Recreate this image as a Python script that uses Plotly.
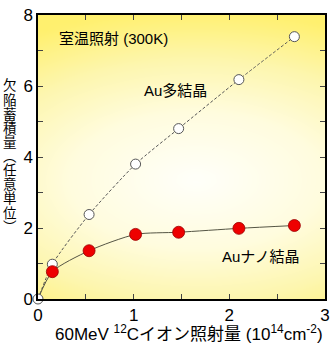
import numpy as np
import plotly.graph_objects as go

# Data
dose_poly = [0.0, 0.15, 0.534, 1.02, 1.47, 2.10, 2.68]
defect_poly = [0.0, 0.98, 2.38, 3.80, 4.80, 6.18, 7.39]
dose_nano = [0.0, 0.15, 0.534, 1.02, 1.47, 2.10, 2.68]
defect_nano = [0.0, 0.77, 1.36, 1.82, 1.88, 1.99, 2.07]
x_ticks = [0, 1, 2, 3]
y_ticks = [0, 2, 4, 6, 8]
y_title_chars = list("欠陥蓄積量︵任意単位︶")

FONT = "Liberation Sans, Arial, Noto Sans CJK JP, sans-serif"

W, H = 336, 347
ML, MR, MT, MB = 38, 6, 10, 48
plot_h = H - MT - MB
plot_w = W - ML - MR

fig = go.Figure()

# background gradient (decorative)
gx = np.linspace(0, 3, 40)
gy = np.linspace(0, 8, 40)
GX, GY = np.meshgrid(gx / 3, gy / 8)
t = np.sqrt(((GX - 0.55) / 1.1) ** 2 + ((GY - 0.42) / 0.6) ** 2)
t = np.clip(t, 0, 1)
fig.add_trace(go.Heatmap(
    x=gx, y=gy, z=t, zmin=0, zmax=1, zsmooth="best", showscale=False,
    hoverinfo="skip",
    colorscale=[[0, "rgb(255,255,250)"], [0.4, "rgb(255,252,222)"],
                [0.7, "rgb(253,246,175)"], [1, "rgb(255,240,110)"]],
))

# fitted curves
fig.add_trace(go.Scatter(x=dose_poly, y=defect_poly, mode="lines",
                         line=dict(color="#555555", width=1, dash="3px,2px", shape="spline", smoothing=0.6),
                         hoverinfo="skip", showlegend=False))
fig.add_trace(go.Scatter(x=dose_nano, y=defect_nano, mode="lines",
                         line=dict(color="#555544", width=1, shape="spline", smoothing=0.7),
                         hoverinfo="skip", showlegend=False))
# markers
fig.add_trace(go.Scatter(x=dose_poly, y=defect_poly, mode="markers", cliponaxis=False,
                         marker=dict(size=10, color="white", line=dict(color="#555555", width=1)),
                         showlegend=False))
fig.add_trace(go.Scatter(x=dose_nano[1:], y=defect_nano[1:], mode="markers", cliponaxis=False,
                         marker=dict(size=12, color="#EE0000", line=dict(color="#990000", width=0.8)),
                         showlegend=False))

axis_common = dict(showline=True, linecolor="black", linewidth=1.5, mirror="ticks",
                   ticks="inside", ticklen=5, tickwidth=1, tickcolor="#444",
                   showgrid=False, zeroline=False,
                   tickfont=dict(family=FONT, size=17, color="black"))
fig.update_xaxes(range=[0, 3], tickvals=x_ticks, ticktext=[str(v) for v in x_ticks],
                 minor=dict(dtick=0.5, ticks="inside", ticklen=5, tickcolor="#444"),
                 **axis_common)
fig.update_yaxes(range=[0, 8], tickvals=y_ticks, ticktext=[str(v) for v in y_ticks],
                 minor=dict(dtick=1, ticks="inside", ticklen=5, tickcolor="#444"),
                 **axis_common)

lab_font = dict(family=FONT, size=15, color="black")
fig.add_annotation(x=0.195, y=7.34, xref="x", yref="y", xanchor="left", yanchor="middle",
                   text="室温照射 (300K)", showarrow=False, font=lab_font)
fig.add_annotation(x=1.09, y=5.87, xref="x", yref="y", xanchor="left", yanchor="middle",
                   text="Au多結晶", showarrow=False, font=lab_font)
fig.add_annotation(x=1.90, y=1.21, xref="x", yref="y", xanchor="left", yanchor="middle",
                   text="Auナノ結晶", showarrow=False, font=lab_font)

# x-axis title
fig.add_annotation(x=(192 - ML) / plot_w, y=-(334 - (H - MB)) / plot_h,
                   xref="paper", yref="paper", xanchor="center", yanchor="middle",
                   showarrow=False, font=dict(family=FONT, size=17, color="black"),
                   text="60MeV <sup>12</sup>Cイオン照射量 (10<sup>14</sup>cm<sup>-2</sup>)")

# y-axis title: vertical stacked characters
y0, y1 = 82, 226
n = len(y_title_chars)
for i, ch in enumerate(y_title_chars):
    py = y0 + (y1 - y0) * i / (n - 1)
    fig.add_annotation(x=-(ML - 10) / plot_w, y=(H - MB - py) / plot_h,
                       xref="paper", yref="paper", xanchor="center", yanchor="middle",
                       showarrow=False, text=ch,
                       font=dict(family=FONT, size=13.5, color="black"))

fig.update_layout(width=W, height=H, margin=dict(l=ML, r=MR, t=MT, b=MB),
                  paper_bgcolor="white", plot_bgcolor="white", showlegend=False,
                  font=dict(family=FONT))
fig.write_html("out.html")
